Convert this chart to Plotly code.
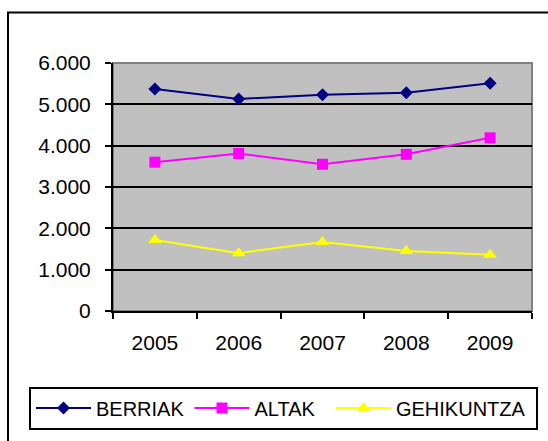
import plotly.graph_objects as go

years = ["2005", "2006", "2007", "2008", "2009"]
berriak = [5370, 5130, 5230, 5280, 5510]
altak = [3600, 3810, 3550, 3790, 4190]
gehikuntza = [1720, 1400, 1670, 1450, 1360]
y_ticks = [0, 1000, 2000, 3000, 4000, 5000, 6000]

FONT = "Liberation Sans, Arial, sans-serif"

fig = go.Figure()
fig.add_trace(go.Scatter(x=years, y=berriak, name="BERRIAK", mode="lines+markers",
                         line=dict(color="#000080", width=2),
                         marker=dict(symbol="diamond", size=10, color="#000080")))
fig.add_trace(go.Scatter(x=years, y=altak, name="ALTAK\u00a0\u00a0", mode="lines+markers",
                         line=dict(color="#FF00FF", width=2),
                         marker=dict(symbol="square", size=11, color="#FF00FF")))
fig.add_trace(go.Scatter(x=years, y=gehikuntza, name="GEHIKUNTZA\u00a0", mode="lines+markers",
                         line=dict(color="#FFFF00", width=2),
                         marker=dict(symbol="triangle-up", size=12, color="#FFFF00")))

fig.update_layout(
    width=548, height=441,
    margin=dict(l=113, r=16, t=63, b=130, autoexpand=False),
    paper_bgcolor="white",
    plot_bgcolor="#C0C0C0",
    separators=",.",
    font=dict(family=FONT, size=19, color="black"),
    showlegend=True,
    legend=dict(orientation="h", x=-0.2005, y=-0.3045, xanchor="left", yanchor="top",
                bgcolor="white", bordercolor="black", borderwidth=2,
                font=dict(family=FONT, size=20, color="black"),
                itemwidth=55, traceorder="normal"),
    shapes=[
        dict(type="rect", xref="paper", yref="paper", x0=0, x1=1, y0=0, y1=1,
             line=dict(color="#808080", width=2), layer="below"),
        dict(type="rect", xref="paper", yref="paper", x0=-0.2506, x1=1.1, y0=-0.6, y1=1.204,
             line=dict(color="black", width=2)),
    ],
)
fig.update_xaxes(type="category", range=[-0.5, 4.5], tickson="boundaries",
                 ticks="outside", ticklen=6, tickwidth=2, tickcolor="black",
                 showline=True, linecolor="black", linewidth=2,
                 showgrid=False, zeroline=False, ticklabelstandoff=12,
                 tickfont=dict(family=FONT, size=21, color="black"))
fig.update_yaxes(range=[0, 6000], tickvals=y_ticks, tickformat=",d",
                 ticks="outside", ticklen=6, tickwidth=2, tickcolor="black",
                 showline=True, linecolor="black", linewidth=2,
                 showgrid=True, gridcolor="black", gridwidth=2, zeroline=False,
                 ticklabelstandoff=10,
                 tickfont=dict(family=FONT, size=21, color="black"))

fig.write_html("out.html", config={"displayModeBar": False},
               post_script="document.body.style.margin='0';document.body.style.overflow='hidden';")
